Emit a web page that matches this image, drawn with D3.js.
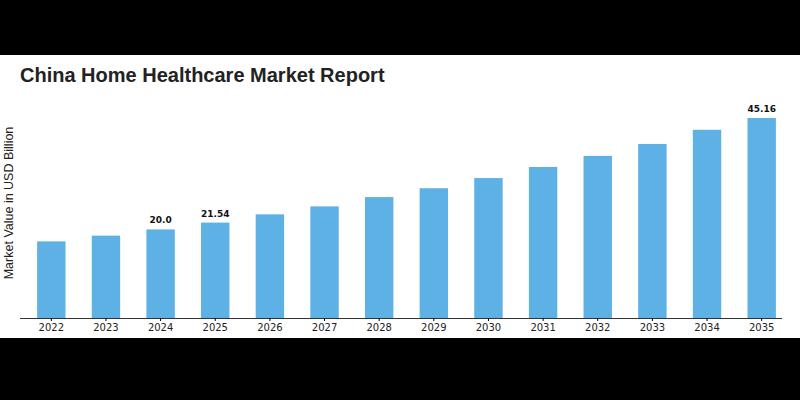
<!DOCTYPE html>
<html><head><meta charset="utf-8">
<script src="https://cdn.jsdelivr.net/npm/d3@7"></script>
<style>body{margin:0;background:#000}svg{display:block}</style>
</head><body><svg id="c" width="800" height="400"></svg>
<script>
const years = ["2022","2023","2024","2025","2026","2027","2028","2029","2030","2031","2032","2033","2034","2035"];
const values = [17.3,18.6,20.0,21.54,23.4,25.2,27.3,29.3,31.6,34.1,36.6,39.3,42.5,45.16];
const labelled = ["2024","2025","2035"];
const labelText = {"2024":"20.0","2025":"21.54","2035":"45.16"};

const svg = d3.select("#c");
svg.append("rect").attr("x",0).attr("y",55).attr("width",800).attr("height",283).attr("fill","#fff");
svg.append("text").attr("x",20).attr("y",82).attr("font-family","Liberation Sans, Arial, sans-serif")
  .attr("font-weight","bold").attr("font-size",20).attr("fill","#222").text("China Home Healthcare Market Report");

const x = d3.scaleBand().domain(years).range([24,789]).paddingInner(0.48).paddingOuter(0.24);
const y = d3.scaleLinear().domain([0,45.16]).range([318,118]);

svg.selectAll("rect.bar").data(years).join("rect").attr("class","bar")
  .attr("x",d=>x(d)).attr("width",x.bandwidth())
  .attr("y",(d,i)=>y(values[i])).attr("height",(d,i)=>318-y(values[i]))
  .attr("fill","#5DB1E4");

svg.selectAll("text.v").data(labelled).join("text").attr("class","v")
  .attr("x",d=>x(d)+x.bandwidth()/2).attr("y",d=>y(values[years.indexOf(d)])-6)
  .attr("text-anchor","middle").attr("font-family","DejaVu Sans, sans-serif").attr("font-weight","bold")
  .attr("font-size",9).attr("fill","#111").text(d=>labelText[d]);

const ax = svg.append("g").attr("transform","translate(0,318)").call(d3.axisBottom(x).tickSize(3));
ax.select(".domain").attr("stroke","#333");
ax.selectAll("text").attr("font-family","DejaVu Sans, sans-serif").attr("font-size",10).attr("fill","#222");
ax.select(".domain").attr("d","M20,0.5H782");

svg.append("text").attr("transform","translate(13,203) rotate(-90)").attr("text-anchor","middle")
  .attr("font-family","Liberation Sans, Arial, sans-serif").attr("font-size",12.5).attr("fill","#222")
  .text("Market Value in USD Billion");
</script></body></html>
